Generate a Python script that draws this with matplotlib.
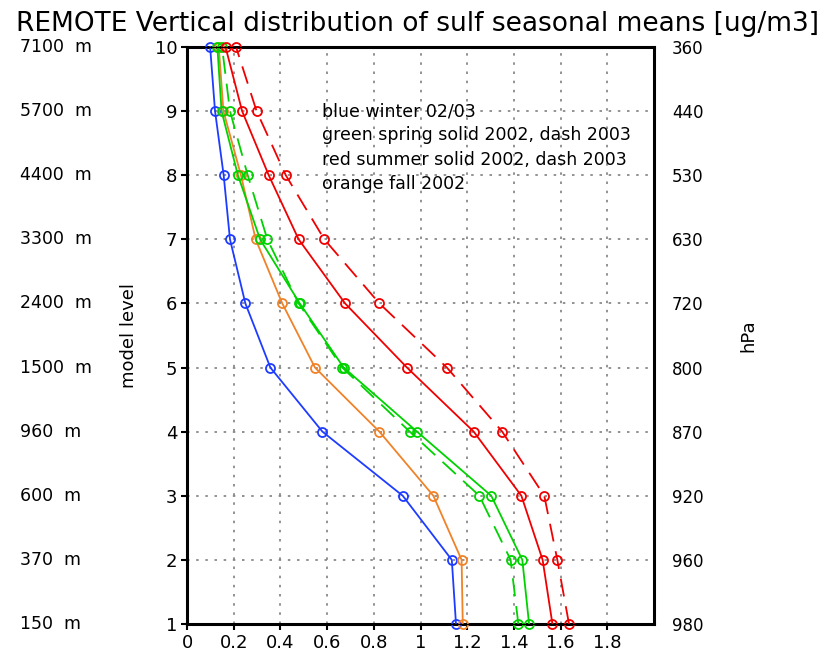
import matplotlib.pyplot as plt
import numpy as np

# model levels and their heights / pressures
levels = [1, 2, 3, 4, 5, 6, 7, 8, 9, 10]
heights = ["150  m", "370  m", "600  m", "960  m", "1500  m",
           "2400  m", "3300  m", "4400  m", "5700  m", "7100  m"]
pressures = ["980", "960", "920", "870", "800", "720", "630", "530", "440", "360"]

# seasonal mean sulfate [ug/m3], level 1..10
winter = [1.152, 1.134, 0.924, 0.580, 0.357, 0.250, 0.184, 0.157, 0.120, 0.099]
fall = [1.181, 1.176, 1.055, 0.824, 0.548, 0.408, 0.294, 0.231, 0.156, 0.136]
spring02 = [1.465, 1.436, 1.303, 0.985, 0.671, 0.483, 0.313, 0.218, 0.148, 0.130]
spring03 = [1.419, 1.386, 1.252, 0.954, 0.665, 0.478, 0.344, 0.260, 0.184, 0.150]
summer02 = [1.565, 1.523, 1.432, 1.228, 0.942, 0.677, 0.478, 0.350, 0.236, 0.165]
summer03 = [1.636, 1.586, 1.530, 1.350, 1.113, 0.824, 0.588, 0.423, 0.298, 0.210]

xticks = [0, 0.2, 0.4, 0.6, 0.8, 1.0, 1.2, 1.4, 1.6, 1.8]
xticklabels = ["0", "0.2", "0.4", "0.6", "0.8", "1", "1.2", "1.4", "1.6", "1.8"]

notes = ["blue winter 02/03", "green spring solid 2002, dash 2003",
         "red summer solid 2002, dash 2003", "orange fall 2002"]

blue = "#1e3cff"
green = "#00d200"
red = "#f00000"
orange = "#f08228"

fig = plt.figure(figsize=(8.36, 6.54), dpi=100)
ax = fig.add_axes([0.2237, 0.0459, 0.5586, 0.8822])

kw = dict(marker="o", markersize=6.5, markerfacecolor="none", markeredgewidth=1.3,
          linewidth=1.3, clip_on=False, zorder=3)
ax.plot(winter, levels, color=blue, **kw)
ax.plot(fall, levels, color=orange, **kw)
ax.plot(spring02, levels, color=green, **kw)
ax.plot(spring03, levels, color=green, dashes=(10, 5.5), **kw)
ax.plot(summer02, levels, color=red, **kw)
ax.plot(summer03, levels, color=red, dashes=(10, 5.5), **kw)

ax.set_xlim(0, 2)
ax.set_ylim(1, 10)
ax.set_xticks(xticks)
ax.set_xticklabels(xticklabels, fontsize=13)
ax.set_yticks(levels)
ax.set_yticklabels([str(l) for l in levels], fontsize=13)
ax.tick_params(direction="out", length=4, width=1.5, pad=3)
ax.grid(True, color="#808080", linestyle=(0, (1.5, 4)), linewidth=1.2)
for s in ax.spines.values():
    s.set_linewidth(2.2)
ax.set_ylabel("model level", fontsize=13, labelpad=12)

# heights on the far left, pressures on the right
ax2 = ax.twinx()
ax2.set_ylim(1, 10)
ax2.set_yticks(levels)
ax2.set_yticklabels(pressures, fontsize=12)
ax2.tick_params(length=0, pad=13)
ax2.set_ylabel("hPa", fontsize=13, labelpad=26)

for lev, h in zip(levels, heights):
    ax.text(-0.358, lev, h, fontsize=12.5, ha="left", va="center",
            transform=ax.get_yaxis_transform())

for i, t in enumerate(notes):
    ax.text(0.578, 9 - i * 0.38, t, fontsize=12.5, ha="left", va="center")

fig.text(0.5, 0.963, "REMOTE Vertical distribution of sulf seasonal means [ug/m3]",
         fontsize=19, ha="center", va="center")

fig.savefig("out.png", dpi=100)
